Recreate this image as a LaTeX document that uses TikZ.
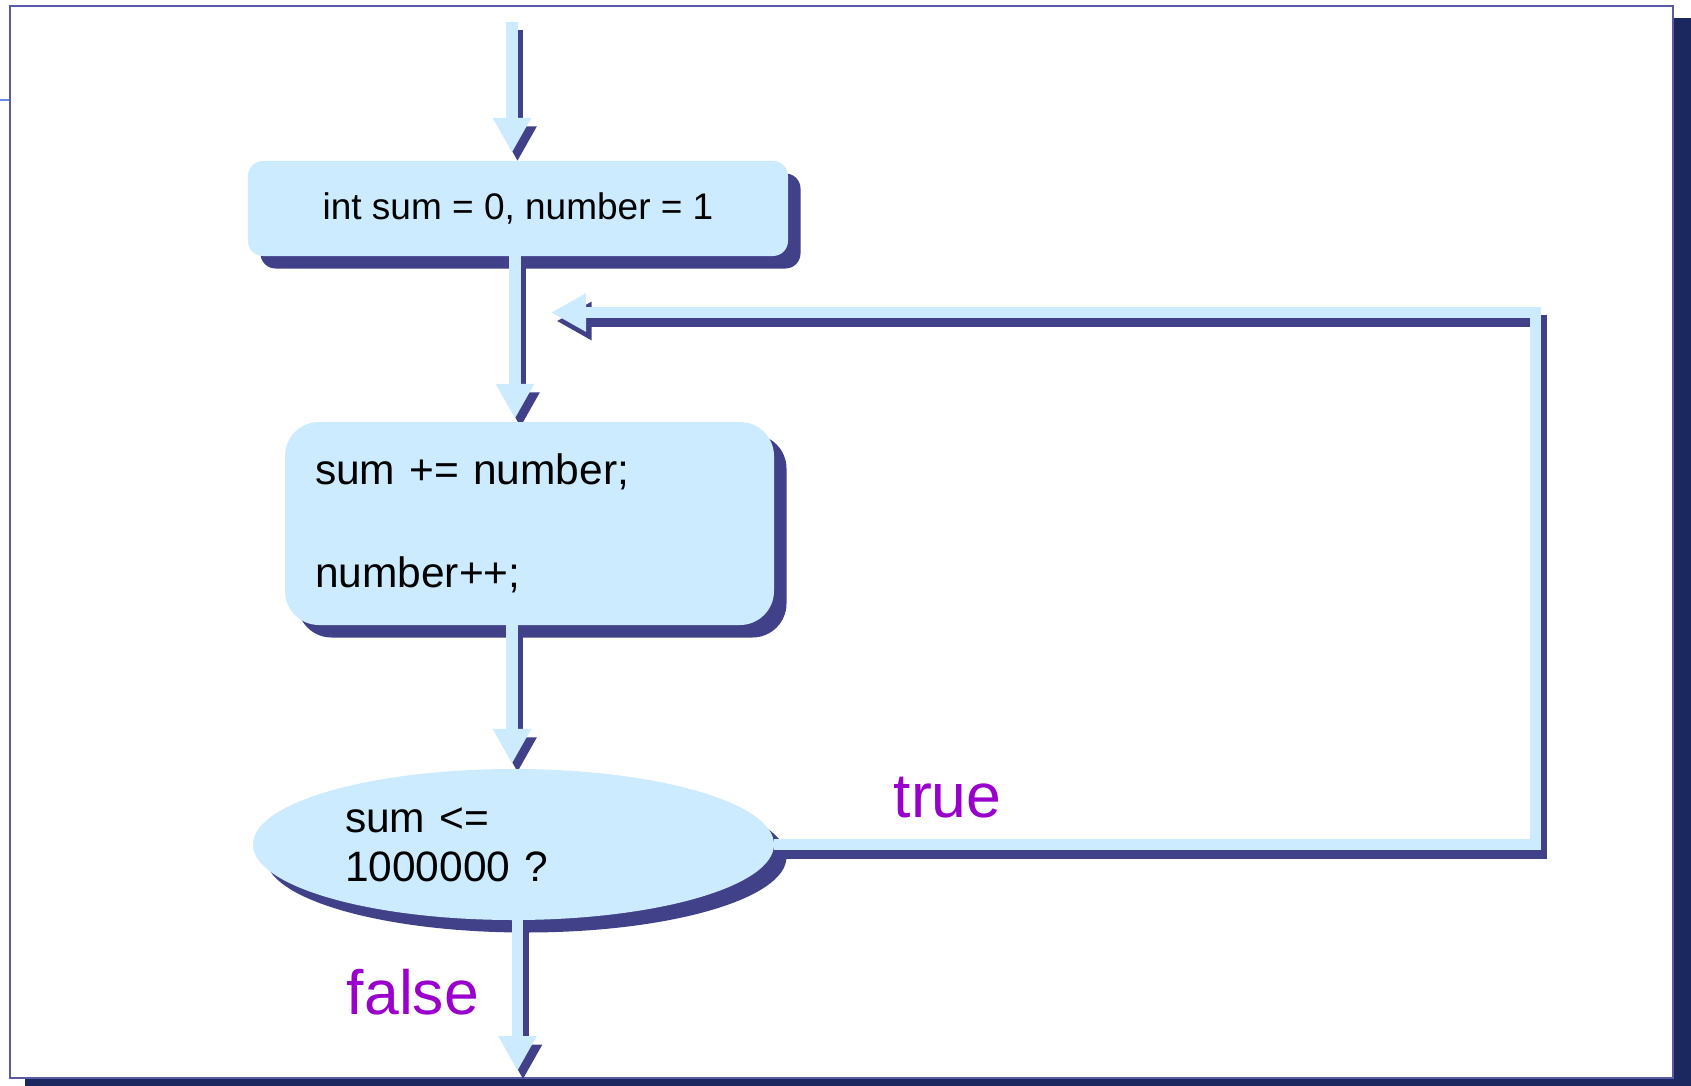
\documentclass[tikz,border=0pt]{standalone}
\usepackage{fontspec}
\setmainfont{Liberation Sans}
\usetikzlibrary{arrows.meta,shapes.geometric,shadows}
\definecolor{lightb}{HTML}{CCEBFF}
\definecolor{shad}{HTML}{414189}
\definecolor{framec}{HTML}{5A5AA6}
\definecolor{bandc}{HTML}{1B2860}
\definecolor{purp}{HTML}{9900CC}
\definecolor{tickc}{HTML}{6B8BE8}
\pgfdeclarelayer{framelayer}
\pgfdeclarelayer{shadowlayer}
\pgfsetlayers{framelayer,shadowlayer,main}
\tikzset{
  flow/.style={line width=11.5pt, color=lightb, -{Triangle[length=35pt 0 0,width=36pt 0 0]}},
  flowshadow/.style={line width=11.5pt, color=shad, -{Triangle[length=35pt 0 0,width=36pt 0 0]},
     transform canvas={shift={(5.5pt,-8.5pt)}}},
  nodeshadow/.style={drop shadow={shadow xshift=12.5pt,shadow yshift=-12.5pt,fill=shad,opacity=1}},
  initbox/.style={rectangle, rounded corners=15pt, fill=lightb, nodeshadow,
     minimum width=540pt, minimum height=95pt, inner sep=0pt, font=\fontsize{37}{44}\selectfont},
  bodybox/.style={rectangle, rounded corners=34pt, fill=lightb, nodeshadow,
     minimum width=489pt, minimum height=203pt, inner sep=0pt, text width=429pt, align=left,
     font=\fontsize{42.5}{51.5}\selectfont},
  testbox/.style={ellipse, fill=lightb, nodeshadow,
     minimum width=521pt, minimum height=151pt, inner sep=0pt, text width=337pt, align=left,
     font=\fontsize{42.5}{49}\selectfont},
  branchlabel/.style={text=purp, inner sep=0pt, font=\fontsize{62.5}{70}\selectfont}
}
\newcommand{\flowpaths}[1]{%
  \draw[#1, shorten >=8pt] (start) -- (start |- init.north);
  \draw[#1, shorten >=3pt] (a2s) -- (a2s |- body.north);
  \draw[#1, shorten >=5pt] (a3s) -- (a3s |- test.north);
  \draw[#1] (a4s) -- (a4s |- endf);
  \draw[#1] (test.east) -| (lc2) -- (looptip);
}
\begin{document}
\begin{tikzpicture}[x=1pt,y=-1pt]
\useasboundingbox (0,0) rectangle (1691,1086);
\begin{pgfonlayer}{framelayer}
  \fill[bandc] (25,18) rectangle (1691,1086);
  \draw[framec, line width=2pt, fill=white] (9.5,6.5) rectangle (1673,1077.5);
  \draw[tickc, line width=1.5pt] (0,100) -- (9,100);
\end{pgfonlayer}

\node[initbox] (init) at (518,208.5) {int sum = 0, number = 1};
\node[bodybox] (body) at (529.5,523.5) {sum += number;\\[51.5pt]number++;};
\node[testbox] (test) at (513.5,844.5) {sum <=\\1000000 ?};
\node[branchlabel] (truelab) at (947.5,798) {true};
\node[branchlabel] (falselab) at (413,992) {false};

\coordinate (start) at (512,22);
\coordinate (a2s) at ([xshift=-3pt]init.south);
\coordinate (a3s) at ([xshift=-17.5pt]body.south);
\coordinate (a4s) at ([xshift=4pt]test.south);
\coordinate (endf) at (517.5,1071);
\coordinate (lc2) at (1535.5,312.5);
\coordinate (looptip) at (551,312.5);

\begin{pgfonlayer}{shadowlayer}
  \flowpaths{flowshadow}
\end{pgfonlayer}
\flowpaths{flow}
\end{tikzpicture}
\end{document}
